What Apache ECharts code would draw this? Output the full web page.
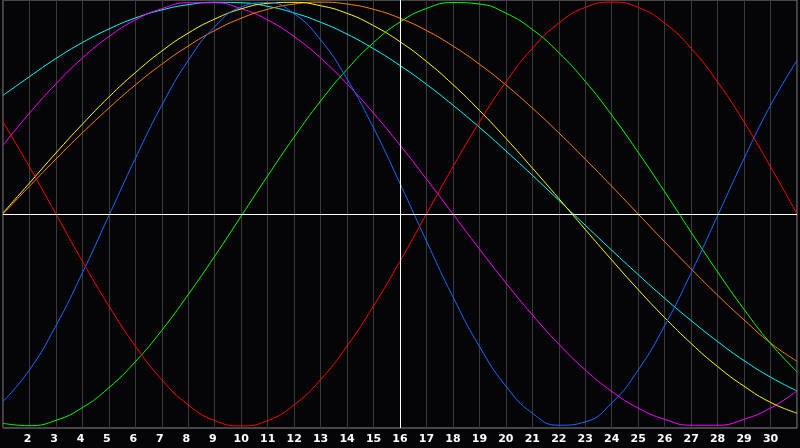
<!DOCTYPE html>
<html>
<head>
<meta charset="utf-8">
<script src="https://cdn.jsdelivr.net/npm/echarts@6/dist/echarts.min.js"></script>
<style>
html,body{margin:0;padding:0;background:#050508;}
#c{width:800px;height:448px;}
</style>
</head>
<body>
<div id="c"></div>
<script>
const days = ['1','2','3','4','5','6','7','8','9','10','11','12','13','14','15','16','17','18','19','20','21','22','23','24','25','26','27','28','29','30','31'];
const todayLabel = '16';

const red = [0.434,0.223,0,-0.223,-0.434,-0.623,-0.782,-0.901,-0.975,-1,-0.975,-0.901,-0.782,-0.623,-0.434,-0.223,0,0.223,0.434,0.623,0.782,0.901,0.975,1,0.975,0.901,0.782,0.623,0.434,0.223,0];
const green = [-0.988,-0.999,-0.974,-0.914,-0.820,-0.697,-0.549,-0.380,-0.199,-0.010,0.180,0.363,0.533,0.683,0.809,0.906,0.970,0.998,0.991,0.948,0.871,0.762,0.626,0.467,0.291,0.105,-0.086,-0.273,-0.450,-0.611,-0.745];
const blue = [-0.885,-0.736,-0.527,-0.278,-0.008,0.262,0.513,0.725,0.884,0.977,0.998,0.945,0.822,0.637,0.406,0.144,-0.128,-0.391,-0.625,-0.812,-0.940,-0.997,-0.981,-0.892,-0.736,-0.527,-0.278,-0.008,0.262,0.513,0.725];
const magenta = [0.325,0.476,0.614,0.736,0.837,0.916,0.969,0.997,0.997,0.969,0.916,0.837,0.736,0.614,0.476,0.325,0.165,0,-0.165,-0.325,-0.476,-0.614,-0.736,-0.837,-0.916,-0.969,-0.997,-0.997,-0.969,-0.916,-0.835];
const cyan = [0.560,0.648,0.734,0.809,0.873,0.925,0.963,0.988,0.999,0.997,0.980,0.949,0.905,0.849,0.780,0.701,0.612,0.514,0.409,0.298,0.183,0.065,-0.053,-0.171,-0.286,-0.398,-0.503,-0.602,-0.692,-0.770,-0.835];
const yellow = [0.005,0.146,0.288,0.424,0.552,0.667,0.769,0.854,0.920,0.968,0.994,0.999,0.983,0.947,0.889,0.813,0.720,0.611,0.489,0.357,0.217,0.073,-0.073,-0.217,-0.357,-0.489,-0.611,-0.720,-0.813,-0.889,-0.940];
const orange = [0,0.131,0.259,0.383,0.500,0.609,0.707,0.793,0.866,0.924,0.966,0.991,1,0.991,0.966,0.924,0.866,0.793,0.707,0.609,0.500,0.383,0.259,0.131,0,-0.131,-0.259,-0.383,-0.500,-0.609,-0.695];

const curves = [
  {name:'cyan', data:cyan, color:'#00ffff'},
  {name:'magenta', data:magenta, color:'#ff00ff'},
  {name:'orange', data:orange, color:'#ff8000'},
  {name:'yellow', data:yellow, color:'#ffff00'},
  {name:'green', data:green, color:'#00ff00'},
  {name:'blue', data:blue, color:'#1a6aff'},
  {name:'red', data:red, color:'#ff0000'}
];

const chart = echarts.init(document.getElementById('c'), null, {renderer:'canvas'});
const series = curves.map(c => ({
  name: c.name, type: 'line', data: c.data, smooth: 0.5, symbol: 'none', z: 3,
  lineStyle: {color: c.color, width: 1}, itemStyle: {color: c.color}
}));
series.push({
  name: 'refs', type: 'line', data: [], z: 2, silent: true,
  markLine: {
    silent: true, symbol: ['none','none'], label: {show:false},
    lineStyle: {color:'#ffffff', width:1, type:'solid'},
    emphasis: {disabled:true},
    data: [{yAxis: 0}, {xAxis: todayLabel}]
  }
});

chart.setOption({
  backgroundColor: '#050508',
  animation: false,
  grid: {left: 1, right: 1, top: 0, height: 428, show: true, borderColor: '#8a8a8a', borderWidth: 1, backgroundColor: 'transparent'},
  xAxis: {
    type: 'category', data: days, boundaryGap: false,
    axisLine: {show: true, lineStyle: {color: '#8a8a8a', width: 1}},
    axisTick: {show: false},
    axisLabel: {
      interval: 0, color: '#ffffff', fontFamily: 'DejaVu Sans', fontWeight: 'bold', fontSize: 11, margin: 6,
      formatter: v => (v === days[0] || v === days[days.length-1]) ? '' : (v.length === 1 ? v + ' ' : v)
    },
    splitLine: {show: true, interval: 0, lineStyle: {color: '#3a3a3a', width: 1}}
  },
  yAxis: {
    type: 'value', min: -1.01, max: 1.01, show: false,
    splitLine: {show: false}
  },
  series: series
});
</script>
</body>
</html>
